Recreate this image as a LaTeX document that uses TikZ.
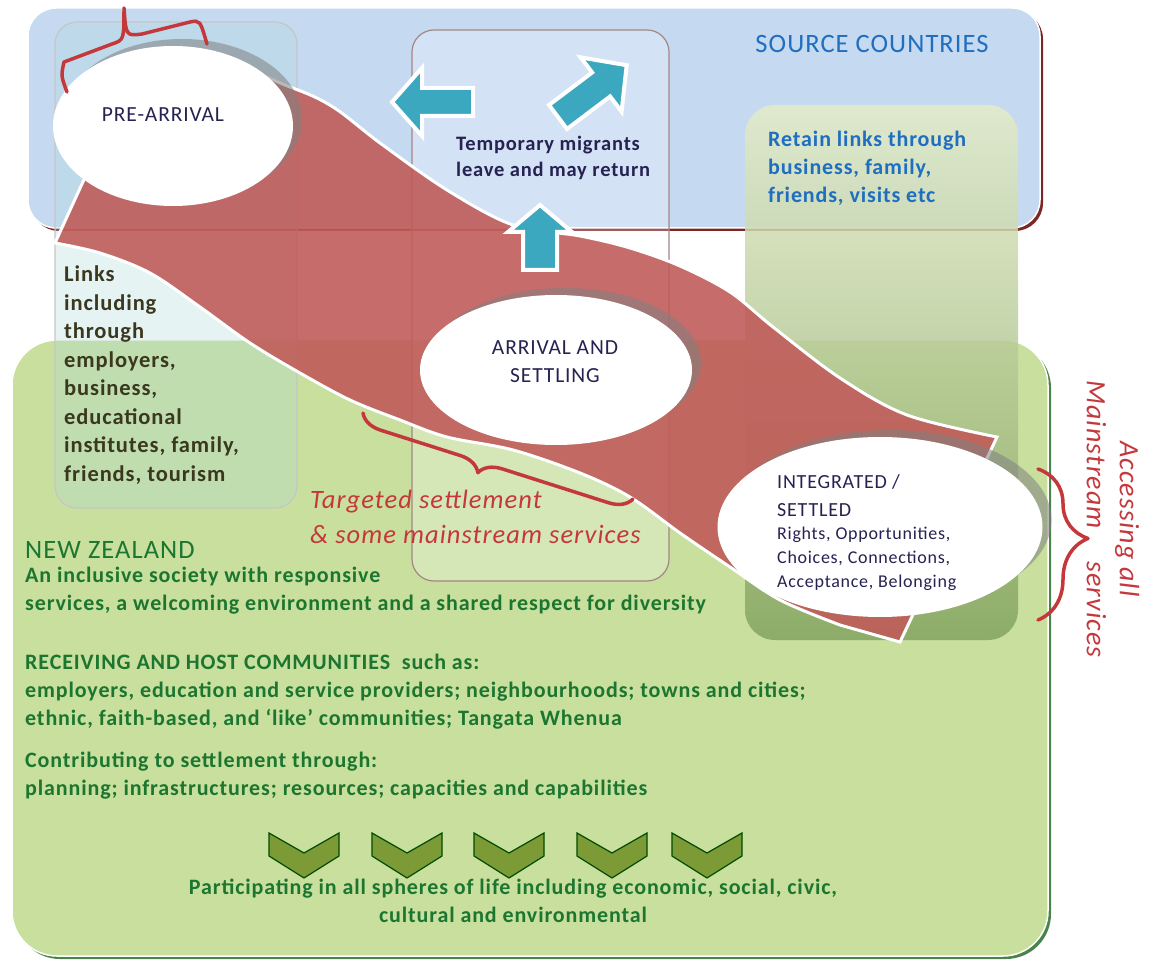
\documentclass[tikz,border=0pt]{standalone}
\usepackage{fontspec}
\setmainfont{Carlito}[LetterSpace=4]
\usetikzlibrary{shapes.geometric,decorations.pathreplacing,shadows,positioning}
\definecolor{skyblue}{RGB}{197,217,241}
\definecolor{nzgreen}{RGB}{200,223,158}
\definecolor{bandred}{RGB}{192,92,90}
\definecolor{darkred}{RGB}{125,38,38}
\definecolor{txtgreen}{RGB}{28,118,48}
\definecolor{txtblue}{RGB}{31,110,192}
\definecolor{txtnavy}{RGB}{38,34,82}
\definecolor{txtolive}{RGB}{58,56,30}
\definecolor{bracered}{RGB}{196,56,60}
\definecolor{arrowteal}{RGB}{60,168,192}
\definecolor{chevgreen}{RGB}{124,154,54}
\definecolor{paleolive}{RGB}{228,236,200}
\definecolor{deepolive}{RGB}{132,164,96}
\tikzset{
  bubble/.style={ellipse,fill=white,inner sep=0pt,
    drop shadow={shadow xshift=9pt,shadow yshift=7pt,fill=gray,opacity=0.55}},
  bubbletxt/.style={text=txtnavy,inner sep=0pt,font=\fontsize{21.5}{28}\selectfont},
  greentxt/.style={text=txtgreen,inner sep=0pt,align=left,anchor=north west,
    font=\fontsize{22}{28}\selectfont\bfseries},
  redbrace/.style={bracered,line width=3.5pt,line cap=round,line join=round},
  blockarrow/.style={fill=arrowteal,draw=white,line width=4pt,line join=miter},
}
\begin{document}
\begin{tikzpicture}[x=1pt,y=-1pt]
\useasboundingbox (0,0) rectangle (1157,965);
% source countries and new zealand
\fill[darkred,rounded corners=28pt] (31,11) rectangle (1043,231);
\filldraw[fill=skyblue,draw=white,line width=1.5pt,rounded corners=28pt] (28,8) rectangle (1040,228);
\fill[green!30!black!70,rounded corners=45pt] (15,343) rectangle (1051,959);
\filldraw[fill=nzgreen,draw=white,line width=1.5pt,rounded corners=45pt] (12,340) rectangle (1048,956);
% columns
\filldraw[fill=teal!30!white,fill opacity=0.32,draw=gray!45,line width=1.2pt,rounded corners=22pt] (55,22) rectangle (297,508);
\filldraw[fill=white,fill opacity=0.25,draw=gray!50!darkred!70,line width=1.2pt,rounded corners=22pt] (412,30) rectangle (669,581);
\shade[top color=paleolive,bottom color=deepolive,opacity=0.85,rounded corners=30pt] (745,105) rectangle (1018,640);
% the settlement band
\path[fill=bandred,fill opacity=0.9,draw=white,line width=3pt]
  plot[smooth,tension=0.55] coordinates {(87,173) (110,100) (200,58) (290,87) (333,107) (380,143) (447,190)
    (513,225) (580,236) (630,248) (680,266) (730,292) (773,327) (840,378) (907,415) (997,437)}
  -- (900,642)
  -- plot[smooth,tension=0.55] coordinates {(840,625) (780,600) (730,567) (680,533) (630,497) (580,473)
    (513,450) (447,437) (400,420) (350,400) (300,373) (250,343) (200,307) (150,273) (100,253) (55,243)}
  -- cycle;
% stages
\node[bubble,minimum width=240pt,minimum height=160pt] (pre) at (173,126) {};
\node[bubble,minimum width=272pt,minimum height=150pt] (arr) at (556,370) {};
\node[bubble,minimum width=325pt,minimum height=180pt] (integ) at (880,527) {};
\node[bubbletxt] (pretxt) at (163,115) {PRE-ARRIVAL};
\node[bubbletxt,align=center] (arrtxt) at (555,362) {ARRIVAL AND\\SETTLING};
\node[bubbletxt,align=left,anchor=north west,font=\fontsize{20}{28}\selectfont] (integtxt) at (777,474) {INTEGRATED /\\SETTLED};
\node[text=txtnavy,inner sep=0pt,align=left,anchor=north west,font=\fontsize{18}{24}\selectfont]
  (rights) at ([yshift=-10pt]integtxt.south west) {Rights, Opportunities,\\Choices, Connections,\\Acceptance, Belonging};
% migrant arrows
\filldraw[blockarrow] (473,88) -- (422,88) -- (422,68) -- (392,102) -- (422,136) -- (422,116) -- (473,116) -- cycle;
\filldraw[blockarrow] (523,270) -- (523,232) -- (508,232) -- (540,205) -- (572,232) -- (557,232) -- (557,270) -- cycle;
\begin{scope}[shift={(558,117)},rotate=37]
\filldraw[blockarrow] (0,-15) -- (54,-15) -- (54,-34) -- (86,0) -- (54,34) -- (54,15) -- (0,15) -- cycle;
\end{scope}
% braces
\draw[redbrace] (67,92) .. controls (61,76) .. (64,62) -- (112,44) .. controls (124,40) .. (124,8)
  .. controls (126,36) .. (142,34) -- (190,22) .. controls (200,20) .. (207,44);
\draw[redbrace,decorate,decoration={brace,amplitude=22pt,aspect=0.55}] (633,499) -- (363,413);
\draw[redbrace,decorate,decoration={brace,amplitude=50pt,aspect=0.46}] (1038,469) -- (1038,620);
% texts
\node[text=txtblue,inner sep=0pt,font=\fontsize{26.5}{28}\selectfont] (src) at (872,44) {SOURCE COUNTRIES};
\node[text=txtnavy,inner sep=0pt,align=left,anchor=north west,font=\fontsize{20.5}{26}\selectfont\bfseries]
  (temp) at (456,136) {Temporary migrants\\leave and may return};
\node[text=txtblue,inner sep=0pt,align=left,anchor=north west,font=\fontsize{22}{28}\selectfont\bfseries]
  (retain) at (768,131) {Retain links through\\business, family,\\friends, visits etc};
\node[text=txtolive,inner sep=0pt,align=left,anchor=north west,font=\fontsize{22.5}{28.5}\selectfont\bfseries]
  (links) at (64,266) {Links\\including\\through\\employers,\\business,\\educational\\institutes, family,\\friends, tourism};
\node[text=bracered,inner sep=0pt,align=left,anchor=north west,font=\fontsize{26.5}{35}\selectfont\itshape]
  (target) at (310,490) {Targeted settlement\\\& some mainstream services};
\node[text=bracered,inner sep=0pt,align=center,rotate=-90,font=\fontsize{28}{33}\selectfont\itshape]
  (access) at (1113,519) {Accessing all\\Mainstream\hspace*{32pt}services};
\node[text=txtgreen,inner sep=0pt,anchor=west,font=\fontsize{26.5}{28}\selectfont] (nz) at (25,550) {NEW ZEALAND};
\node[greentxt] (incl) at (25,567) {An inclusive society with responsive\\services, a welcoming environment and a shared respect for diversity};
\node[greentxt] (host) at (25,654) {RECEIVING AND HOST COMMUNITIES\ \ such as:\\employers, education and service providers; neighbourhoods; towns and cities;\\ethnic, faith-based, and ‘like’ communities; Tangata Whenua};
\node[greentxt] (contrib) at (25,752) {Contributing to settlement through:\\planning; infrastructures; resources; capacities and capabilities};
\foreach \cx in {304,407,509,612,707}
  \filldraw[fill=chevgreen,draw=black!70!green,line width=1.2pt]
    (\cx-35,833) -- (\cx,853) -- (\cx+35,833) -- (\cx+35,856) -- (\cx,878) -- (\cx-35,856) -- cycle;
\node[greentxt,align=center,anchor=north] (partic) at (513,879) {Participating in all spheres of life including economic, social, civic,\\cultural and environmental};
\end{tikzpicture}
\end{document}
